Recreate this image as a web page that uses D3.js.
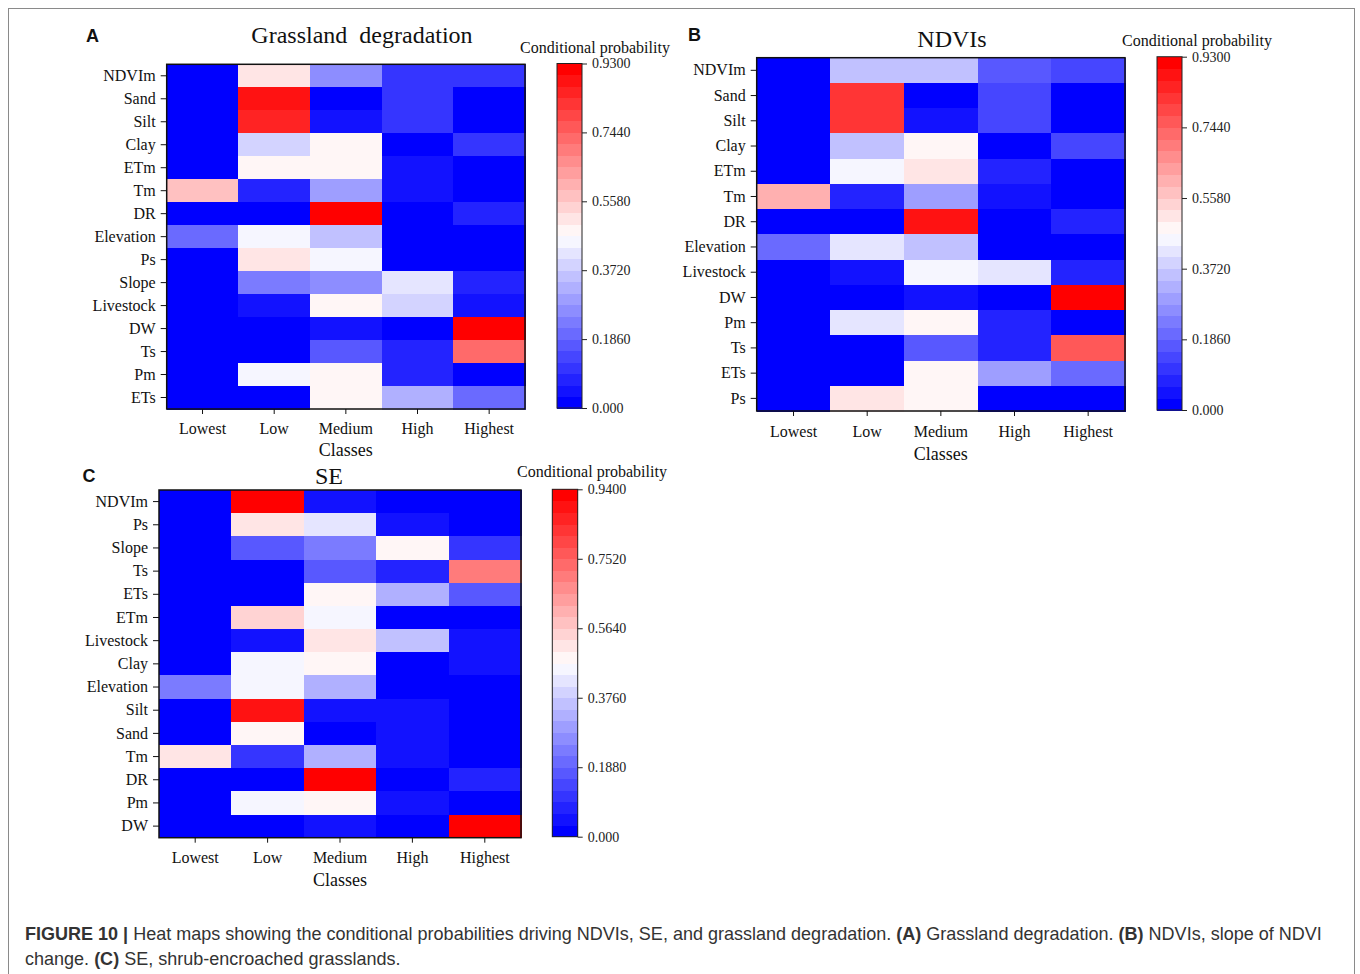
<!DOCTYPE html>
<html>
<head>
<meta charset="utf-8">
<script src="https://cdn.jsdelivr.net/npm/d3@7"></script>
<style>
  html, body { margin: 0; padding: 0; background: #fff; }
  svg { display: block; }
  .serif { font-family: "Liberation Serif", "Times New Roman", serif; }
  .sans { font-family: "Liberation Sans", Arial, sans-serif; }
</style>
</head>
<body>
<svg id="chart" width="1360" height="974"></svg>
<script>
// ---------------- DATA ----------------
const classes = ["Lowest", "Low", "Medium", "High", "Highest"];

// Panel A: Grassland degradation
const rowsA = ["NDVIm","Sand","Silt","Clay","ETm","Tm","DR","Elevation","Ps","Slope","Livestock","DW","Ts","Pm","ETs"];
const valuesA = [
  [0.01, 0.512, 0.264, 0.109, 0.109],
  [0.01, 0.884, 0.01, 0.109, 0.01],
  [0.01, 0.853, 0.046, 0.109, 0.01],
  [0.01, 0.388, 0.481, 0.01, 0.109],
  [0.01, 0.481, 0.481, 0.046, 0.01],
  [0.574, 0.078, 0.295, 0.046, 0.01],
  [0.01, 0.01, 0.93, 0.01, 0.078],
  [0.202, 0.450, 0.357, 0.01, 0.01],
  [0.01, 0.512, 0.450, 0.01, 0.01],
  [0.01, 0.233, 0.264, 0.419, 0.078],
  [0.01, 0.046, 0.481, 0.388, 0.046],
  [0.01, 0.01, 0.046, 0.01, 0.93],
  [0.01, 0.01, 0.171, 0.078, 0.729],
  [0.01, 0.450, 0.481, 0.078, 0.01],
  [0.01, 0.01, 0.481, 0.326, 0.202]
];
const vmaxA = 0.93;
const ticksA = ["0.000", "0.1860", "0.3720", "0.5580", "0.7440", "0.9300"];

// Panel B: NDVIs
const rowsB = ["NDVIm","Sand","Silt","Clay","ETm","Tm","DR","Elevation","Livestock","DW","Pm","Ts","ETs","Ps"];
const valuesB = [
  [0.01, 0.357, 0.357, 0.171, 0.140],
  [0.01, 0.822, 0.01, 0.140, 0.01],
  [0.01, 0.822, 0.046, 0.140, 0.01],
  [0.01, 0.357, 0.481, 0.01, 0.140],
  [0.01, 0.450, 0.512, 0.078, 0.01],
  [0.605, 0.078, 0.295, 0.046, 0.01],
  [0.01, 0.01, 0.884, 0.01, 0.078],
  [0.202, 0.419, 0.357, 0.01, 0.01],
  [0.01, 0.046, 0.450, 0.419, 0.078],
  [0.01, 0.01, 0.046, 0.01, 0.93],
  [0.01, 0.419, 0.481, 0.078, 0.01],
  [0.01, 0.01, 0.171, 0.078, 0.760],
  [0.01, 0.01, 0.481, 0.295, 0.202],
  [0.01, 0.512, 0.481, 0.01, 0.01]
];
const vmaxB = 0.93;
const ticksB = ["0.000", "0.1860", "0.3720", "0.5580", "0.7440", "0.9300"];

// Panel C: SE
const rowsC = ["NDVIm","Ps","Slope","Ts","ETs","ETm","Livestock","Clay","Elevation","Silt","Sand","Tm","DR","Pm","DW"];
const valuesC = [
  [0.01, 0.94, 0.047, 0.01, 0.01],
  [0.01, 0.517, 0.423, 0.047, 0.01],
  [0.01, 0.172, 0.235, 0.486, 0.110],
  [0.01, 0.01, 0.172, 0.078, 0.705],
  [0.01, 0.01, 0.486, 0.329, 0.172],
  [0.01, 0.548, 0.454, 0.01, 0.01],
  [0.01, 0.047, 0.517, 0.360, 0.047],
  [0.01, 0.454, 0.486, 0.01, 0.047],
  [0.235, 0.454, 0.329, 0.01, 0.01],
  [0.01, 0.893, 0.047, 0.047, 0.01],
  [0.01, 0.470, 0.01, 0.047, 0.01],
  [0.517, 0.110, 0.329, 0.047, 0.01],
  [0.01, 0.01, 0.94, 0.01, 0.078],
  [0.01, 0.454, 0.486, 0.047, 0.01],
  [0.01, 0.01, 0.047, 0.01, 0.94]
];
const vmaxC = 0.94;
const ticksC = ["0.000", "0.1880", "0.3760", "0.5640", "0.7520", "0.9400"];

const titles = ["Grassland  degradation", "NDVIs", "SE"];
const panelLetters = ["A", "B", "C"];
const cbTitle = "Conditional probability";
const xTitle = "Classes";

// ---------------- DRAWING ----------------
const NBANDS = 30;
function bwr(t) {
  let r, g, b;
  if (t <= 0.5) { r = g = 2 * t; b = 1; }
  else { r = 1; g = b = 2 * (1 - t); }
  return d3.rgb(Math.round(r * 255), Math.round(g * 255), Math.round(b * 255)).formatHex();
}

const svg = d3.select("#chart");

// outer frame
svg.append("rect").attr("x", 8.5).attr("y", 8.5).attr("width", 1346).attr("height", 1000)
  .attr("fill", "none").attr("stroke", "#8a8a8a").attr("stroke-width", 1);

const panels = [
  { rows: rowsA, values: valuesA, vmax: vmaxA, ticks: ticksA, title: titles[0], letter: panelLetters[0],
    plot: { x0: 166.7, x1: 525, y0: 64.3, y1: 409 }, cb: { x0: 557, x1: 582, y0: 63.5, y1: 408 },
    titlePos: [362, 43], cbTitlePos: [595, 53], letterPos: [86, 41.5], tickDy: 25, xTitleDy: 47 },
  { rows: rowsB, values: valuesB, vmax: vmaxB, ticks: ticksB, title: titles[1], letter: panelLetters[1],
    plot: { x0: 756.7, x1: 1125, y0: 57.7, y1: 411 }, cb: { x0: 1157, x1: 1182, y0: 56.7, y1: 410 },
    titlePos: [952, 47], cbTitlePos: [1197, 46], letterPos: [688, 41], tickDy: 25.5, xTitleDy: 49 },
  { rows: rowsC, values: valuesC, vmax: vmaxC, ticks: ticksC, title: titles[2], letter: panelLetters[2],
    plot: { x0: 159, x1: 521, y0: 490, y1: 837.7 }, cb: { x0: 552.3, x1: 577.7, y0: 489.3, y1: 836.7 },
    titlePos: [329, 484], cbTitlePos: [592, 477], letterPos: [82.5, 482], tickDy: 25, xTitleDy: 48 }
];

panels.forEach(p => {
  const g = svg.append("g");
  const color = d3.scaleQuantize().domain([0, p.vmax])
    .range(d3.range(NBANDS).map(i => bwr(i / (NBANDS - 1))));

  const x = d3.scaleBand().domain(classes).range([p.plot.x0, p.plot.x1]).padding(0);
  const y = d3.scaleBand().domain(p.rows).range([p.plot.y0, p.plot.y1]).padding(0);

  const cells = [];
  p.rows.forEach((r, i) => classes.forEach((c, j) => cells.push({ r, c, v: p.values[i][j] })));

  g.append("g").attr("shape-rendering", "crispEdges").selectAll("rect").data(cells).join("rect")
    .attr("x", d => x(d.c)).attr("y", d => y(d.r))
    .attr("width", x.bandwidth() + 0.5).attr("height", y.bandwidth() + 0.5)
    .attr("fill", d => color(d.v));

  // frame
  g.append("rect").attr("x", p.plot.x0).attr("y", p.plot.y0)
    .attr("width", p.plot.x1 - p.plot.x0).attr("height", p.plot.y1 - p.plot.y0)
    .attr("fill", "none").attr("stroke", "#111").attr("stroke-width", 1.5);

  // axes
  const yAx = g.append("g").attr("transform", `translate(${p.plot.x0},0)`)
    .call(d3.axisLeft(y).tickSize(6).tickPadding(5));
  yAx.select(".domain").remove();
  yAx.selectAll("text").attr("class", "serif").style("font-size", "16px").attr("fill", "#111");
  yAx.selectAll("line").attr("stroke", "#111");

  const xAx = g.append("g").attr("transform", `translate(0,${p.plot.y1})`)
    .call(d3.axisBottom(x).tickSize(5).tickPadding(0));
  xAx.select(".domain").remove();
  xAx.selectAll("line").attr("stroke", "#111");
  xAx.selectAll("text").attr("class", "serif").style("font-size", "16px").attr("fill", "#111")
    .attr("y", p.tickDy).attr("dy", null);

  g.append("text").attr("class", "serif").attr("x", (p.plot.x0 + p.plot.x1) / 2)
    .attr("y", p.plot.y1 + p.xTitleDy).attr("text-anchor", "middle")
    .style("font-size", "18px").attr("fill", "#111").text(xTitle);

  // title
  g.append("text").attr("class", "serif").attr("x", p.titlePos[0]).attr("y", p.titlePos[1])
    .attr("text-anchor", "middle").style("font-size", "24px").style("white-space", "pre")
    .attr("xml:space", "preserve").attr("fill", "#111").text(p.title);

  // panel letter
  g.append("text").attr("class", "sans").attr("x", p.letterPos[0]).attr("y", p.letterPos[1])
    .style("font-size", "18px").style("font-weight", "bold").attr("fill", "#111").text(p.letter);

  // colorbar
  const cy = d3.scaleLinear().domain([0, p.vmax]).range([p.cb.y1, p.cb.y0]);
  const bands = d3.range(NBANDS).map(i => ({ lo: p.vmax * i / NBANDS, hi: p.vmax * (i + 1) / NBANDS }));
  g.append("g").attr("shape-rendering", "crispEdges").selectAll("rect").data(bands).join("rect")
    .attr("x", p.cb.x0).attr("width", p.cb.x1 - p.cb.x0)
    .attr("y", d => cy(d.hi)).attr("height", d => cy(d.lo) - cy(d.hi) + 0.5)
    .attr("fill", d => color((d.lo + d.hi) / 2));
  g.append("rect").attr("x", p.cb.x0).attr("y", p.cb.y0)
    .attr("width", p.cb.x1 - p.cb.x0).attr("height", p.cb.y1 - p.cb.y0)
    .attr("fill", "none").attr("stroke", "#222").attr("stroke-width", 1);

  const tickVals = p.ticks.map(Number);
  const cbAx = g.append("g").attr("transform", `translate(${p.cb.x1},0)`)
    .call(d3.axisRight(cy).tickValues(tickVals).tickSize(5).tickPadding(5)
      .tickFormat((d, i) => p.ticks[i]));
  cbAx.select(".domain").remove();
  cbAx.selectAll("line").attr("stroke", "#222");
  cbAx.selectAll("text").attr("class", "serif").style("font-size", "14px").attr("fill", "#222");

  g.append("text").attr("class", "serif").attr("x", p.cbTitlePos[0]).attr("y", p.cbTitlePos[1])
    .attr("text-anchor", "middle").style("font-size", "16px").attr("fill", "#111").text(cbTitle);
});

// ---------------- CAPTION ----------------
const captionLines = [
  [["FIGURE 10 | ", true], ["Heat maps showing the conditional probabilities driving NDVIs, SE, and grassland degradation. ", false],
   ["(A)", true], [" Grassland degradation. ", false], ["(B)", true], [" NDVIs, slope of NDVI", false]],
  [["change. ", false], ["(C)", true], [" SE, shrub-encroached grasslands.", false]]
];
const capG = svg.append("g");
const capTexts = captionLines.map((line, li) => {
  const t = capG.append("text").attr("class", "sans").attr("x", 25).attr("y", 940 + li * 25)
    .style("font-size", "18px").attr("fill", "#333").attr("xml:space", "preserve").style("white-space", "pre");
  line.forEach(([s, b]) => t.append("tspan").style("font-weight", b ? "bold" : "normal").text(s));
  return t;
});
const w1 = capTexts[0].node().getComputedTextLength();
const fs = 18 * 1298 / w1;
capTexts.forEach(t => t.style("font-size", fs.toFixed(2) + "px"));
</script>
</body>
</html>
